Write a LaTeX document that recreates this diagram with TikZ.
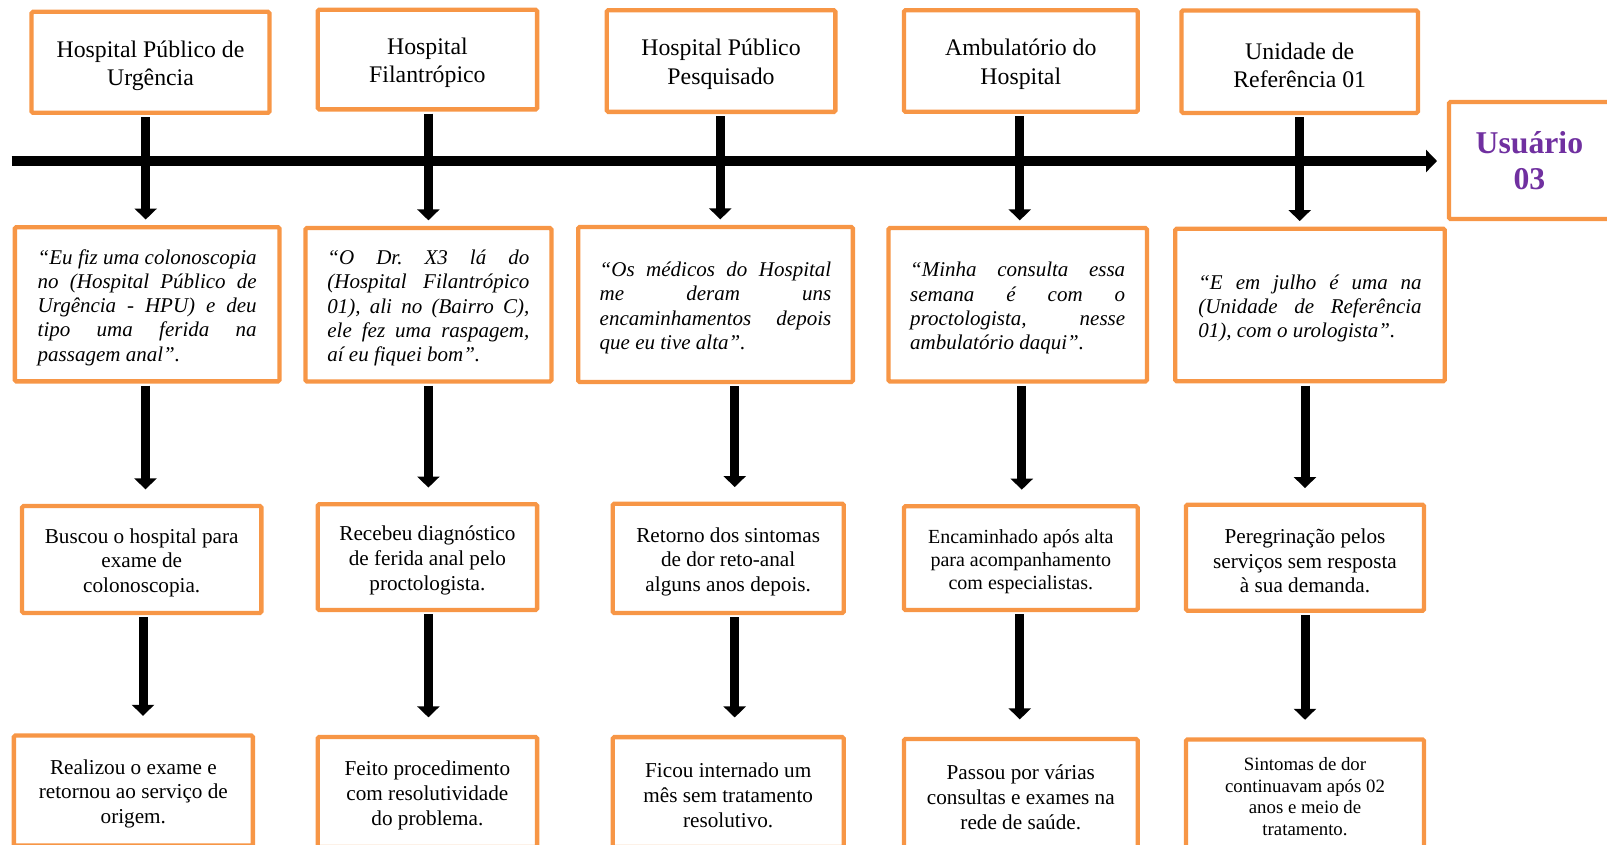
\documentclass[tikz,border=0pt]{standalone}
\usepackage{fontspec}
\setmainfont{Liberation Serif}
\usetikzlibrary{arrows.meta,calc}
\definecolor{boxorange}{RGB}{247,150,70}
\definecolor{upurple}{RGB}{112,48,160}
\newcommand\jl[2]{\makebox[#1][s]{#2}}
\newcommand\lastl[2]{\makebox[#1][l]{#2}}
\newcommand\lw[1]{\rule{0pt}{#1pt}}
\frenchspacing
\begin{document}
\begin{tikzpicture}[x=1pt,y=-1pt,
  box/.style={draw=boxorange, line width=4.3pt, fill=white, inner sep=0pt, align=center, rounded corners=1.5pt, text=black},
  sz/.style 2 args={minimum width=#1pt, minimum height=#2pt},
  toptext/.style={font=\fontsize{23.8}{28.3}\selectfont},
  quotetext/.style={font=\fontsize{21}{24.2}\selectfont\itshape\frenchspacing, align=left},
  steptext/.style={font=\fontsize{21.2}{24.7}\selectfont},
  usertext/.style={font=\fontsize{31.7}{36.7}\selectfont\bfseries, text=upurple},
  varrow/.style={line width=9pt, -{Triangle[width=22pt,length=11pt]}, shorten <=2.2pt},
  haxis/.style={line width=10pt, -{Triangle[width=22pt,length=11pt]}}
]
\useasboundingbox (0,0) rectangle (1607,844);
\clip (0,0) rectangle (1607,844);

% axis
\coordinate (axL) at (11.7,161);
\coordinate (axR) at (1437,161);
\draw[haxis] (axL) -- (axR);

% top row
\node[box, toptext, sz={238}{101}] (A1) at (150.5,62.3) {\lw{23.2}Hospital Público de\\Urgência};
\node[box, toptext, sz={219.4}{99.7}] (B1) at (427.4,59.5) {\lw{23.2}Hospital\\Filantrópico};
\node[box, toptext, sz={228.7}{101.7}] (C1) at (721,61) {\lw{23.2}Hospital Público\\Pesquisado};
\node[box, toptext, sz={233.8}{101.6}] (D1) at (1020.8,61) {\lw{23.2}Ambulatório do\\Hospital};
\node[box, toptext, sz={236.4}{102.4}] (E1) at (1299.7,61.7) {\lw{23.2}Unidade de\\Referência 01};
\node[box, usertext, sz={161}{117}] (U) at (1529.4,160.5) {Usuário\\03};

% quotes
\node[box, quotetext, sz={264.7}{154.2}] (A2) at (147.2,304.25) {%
\lw{21.3}\jl{219pt}{“Eu fiz uma colonoscopia}\\
\jl{219pt}{no (Hospital Público de}\\
\jl{219pt}{Urgência - HPU) e deu}\\
\jl{219pt}{tipo uma ferida na}\\
\lastl{219pt}{passagem anal”.}};
\node[box, quotetext, sz={246}{153.5}] (B2) at (428.4,304.75) {%
\lw{21.3}\jl{202pt}{“O Dr.\ X3 lá do}\\
\jl{202pt}{(Hospital Filantrópico}\\
\jl{202pt}{01), ali no (Bairro C),}\\
\jl{202pt}{ele fez uma raspagem,}\\
\lastl{202pt}{aí eu fiquei bom”.}};
\node[box, quotetext, sz={274.7}{155}] (C2) at (715.5,304.5) {%
\lw{21.3}\jl{231.6pt}{“Os médicos do Hospital}\\
\jl{231.6pt}{me deram uns}\\
\jl{231.6pt}{encaminhamentos depois}\\
\lastl{231.6pt}{que eu tive alta”.}};
\node[box, quotetext, sz={258.4}{153.5}] (D2) at (1017.7,304.75) {%
\lw{21.3}\jl{215pt}{“Minha consulta essa}\\
\jl{215pt}{semana é com o}\\
\jl{215pt}{proctologista, nesse}\\
\lastl{215pt}{ambulatório daqui”.}};
\node[box, quotetext, sz={269.4}{152.6}] (E2) at (1310,305) {%
\lw{21.3}\jl{223.4pt}{“E em julho é uma na}\\
\jl{223.4pt}{(Unidade de Referência}\\
\lastl{223.4pt}{01), com o urologista”.}};

% row 3
\node[box, steptext, sz={239.3}{107}] (A3) at (141.7,559.5) {\lw{21.4}Buscou o hospital para\\exame de\\colonoscopia.};
\node[box, steptext, sz={219.4}{105.8}] (B3) at (427.4,557.1) {\lw{21.4}Recebeu diagnóstico\\de ferida anal pelo\\proctologista.};
\node[box, steptext, sz={231}{109.3}] (C3) at (728.2,558.35) {\lw{21.4}Retorno dos sintomas\\de dor reto-anal\\alguns anos depois.};
\node[box, font=\fontsize{20}{23.2}\selectfont, sz={233.8}{103.7}] (D3) at (1020.8,558.15) {\lw{20.6}Encaminhado após alta\\para acompanhamento\\com especialistas.};
\node[box, steptext, sz={238}{106}] (E3) at (1305,557.7) {\lw{21.4}Peregrinação pelos\\serviços sem resposta\\à sua demanda.};

% row 4
\node[box, steptext, sz={239}{110}] (A4) at (133.35,790.45) {\lw{21.4}Realizou o exame e\\retornou ao serviço de\\origem.};
\node[box, steptext, sz={219.4}{110}] (B4) at (427.4,792) {\lw{21.4}Feito procedimento\\com resolutividade\\do problema.};
\node[box, steptext, sz={231}{110}] (C4) at (728.2,792.1) {\lw{21.4}Ficou internado um\\mês sem tratamento\\resolutivo.};
\node[box, steptext, sz={233.8}{110}] (D4) at (1020.8,794) {\lw{21.4}Passou por várias\\consultas e exames na\\rede de saúde.};
\node[box, font=\fontsize{18.8}{21.4}\selectfont, sz={238}{110}] (E4) at (1305,794.4) {\lw{17.5}Sintomas de dor\\continuavam após 02\\anos e meio de\\tratamento.};

% arrows row 1 -> 2
\draw[varrow, shorten >=5.5pt] ($(A1.south)+(-4.8,0)$) -- ($(A1.south |- A2.north)+(-4.8,0)$);
\draw[varrow, shorten >=5.5pt] ($(B1.south)+(1,0)$) -- ($(B1.south |- B2.north)+(1,0)$);
\draw[varrow, shorten >=5.5pt] ($(C1.south)+(-0.7,0)$) -- ($(C1.south |- C2.north)+(-0.7,0)$);
\draw[varrow, shorten >=5.5pt] ($(D1.south)+(-1,0)$) -- ($(D1.south |- D2.north)+(-1,0)$);
\draw[varrow, shorten >=5.5pt] (E1.south) -- (E1.south |- E2.north);

% arrows row 2 -> 3
\draw[varrow, shorten >=14.5pt] ($(A2.south)+(-1.7,0)$) -- ($(A2.south |- A3.north)+(-1.7,0)$);
\draw[varrow, shorten >=14.5pt] (B2.south) -- (B2.south |- B3.north);
\draw[varrow, shorten >=14.5pt] ($(C3.north |- C2.south)+(6.5,0)$) -- ($(C3.north)+(6.5,0)$);
\draw[varrow, shorten >=14.5pt] ($(D3.north |- D2.south)+(1,0)$) -- ($(D3.north)+(1,0)$);
\draw[varrow, shorten >=14.5pt] (E3.north |- E2.south) -- (E3.north);

% arrows row 3 -> 4
\draw[varrow, shorten >=17.5pt] ($(A3.south)+(1.3,0)$) -- ($(A3.south |- A4.north)+(1.3,0)$);
\draw[varrow, shorten >=17.5pt] ($(B3.south)+(1,0)$) -- ($(B3.south |- B4.north)+(1,0)$);
\draw[varrow, shorten >=17.5pt] ($(C3.south)+(6.5,0)$) -- ($(C3.south |- C4.north)+(6.5,0)$);
\draw[varrow, shorten >=17.5pt] ($(D3.south)+(-1,0)$) -- ($(D3.south |- D4.north)+(-1,0)$);
\draw[varrow, shorten >=17.5pt] (E3.south) -- (E3.south |- E4.north);
\end{tikzpicture}
\end{document}
